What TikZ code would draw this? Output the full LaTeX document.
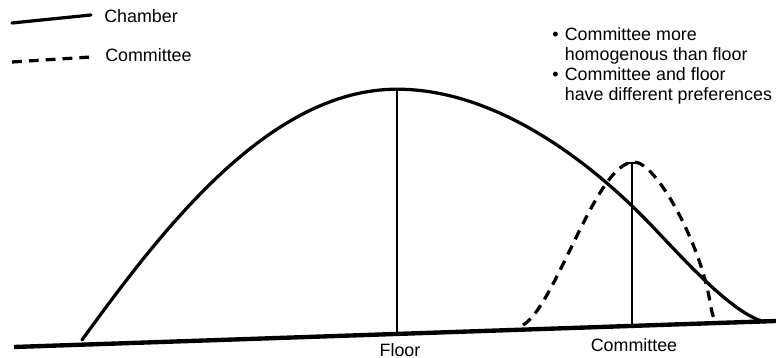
\documentclass[tikz,border=0pt]{standalone}
\usepackage{fontspec}
\setmainfont{Liberation Sans}
\usetikzlibrary{positioning}
\tikzset{
  chamber/.style={line width=2.3pt,line cap=round},
  committee/.style={line width=2.3pt,dash pattern=on 7pt off 5pt},
  ground/.style={line width=3.1pt},
  median/.style={line width=1.2pt},
  lbl/.style={font=\fontsize{12.7}{14.2}\selectfont,inner sep=0pt},
}

\begin{document}
\begin{tikzpicture}
  \useasboundingbox (0,0) rectangle (19.4,8.95);
  % legend
  \draw[chamber] (0.3,8.375) -- (2.275,8.575);
  \node[lbl,anchor=base west] (legchamber) at (2.6,8.375) {Chamber};
  \draw[committee] (0.3,7.4) -- (2.275,7.525);
  \node[lbl,anchor=base west] (legcommittee) at (2.625,7.4) {Committee};
  % notes
  \node[lbl,anchor=base west] (notes) at (13.8,7.925)
    {\begin{tabular}[t]{@{}l@{\hspace{4.5pt}}l@{}}
      \textbullet & Committee more\\
                  & homogenous than floor\\
      \textbullet & Committee and floor\\
                  & have different preferences
     \end{tabular}};
  % chamber distribution
  \coordinate (chstart) at (2.05,0.45);
  \coordinate (floortop) at (9.925,6.72);
  \coordinate (chbend) at (16.3,3.3);
  \coordinate (chend) at (19.125,0.9);
  \draw[chamber] (chstart) .. controls (4.05,3.21) and (6.725,6.72) .. (floortop)
    .. controls (12.425,6.72) and (14.8,4.875) .. (chbend)
    .. controls (17.2,2.355) and (18.325,1.1) .. (chend);
  % committee distribution
  \coordinate (costart) at (13.075,0.825);
  \coordinate (copeak) at (15.85,4.9);
  \coordinate (cobend) at (17.75,1.4);
  \coordinate (coend) at (18.4,0.88);
  \draw[committee] (costart) .. controls (13.9,1.3) and (14.9,4.9) .. (copeak)
    .. controls (16.4,4.9) and (17.5,2.9) .. (cobend)
    .. controls (17.85,0.85) .. (coend);
  % medians
  \coordinate (floorbot) at (9.925,0.6);
  \coordinate (comtop) at (15.8,4.875);
  \coordinate (combot) at (15.8,0.8);
  \draw[median] (floortop) -- (floorbot);
  \draw[median] (comtop) -- (combot);
  \draw[median] ([xshift=-1mm]comtop) -- ([xshift=1mm]comtop);
  % policy space
  \draw[ground] (0.35,0.275) -- (19.4,0.925);
  \node[lbl,anchor=base] (floor) at (10.0,0.05) {Floor};
  \node[lbl,anchor=base] (committee) at (15.85,0.15) {Committee};
\end{tikzpicture}
\end{document}
